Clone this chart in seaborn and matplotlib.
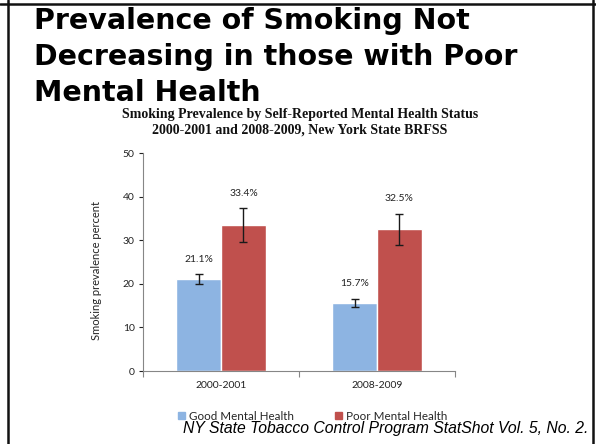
import numpy as np
import pandas as pd
import matplotlib
matplotlib.use("Agg")
import matplotlib.pyplot as plt
import seaborn as sns
from matplotlib.patches import Rectangle

# ========== Data ==========
periods = ["2000-2001", "2008-2009"]
groups = ["Good Mental Health", "Poor Mental Health"]
good_vals = [21.1, 15.7]
poor_vals = [33.4, 32.5]
good_err_low = [19.9, 14.6]
good_err_high = [22.2, 16.6]
poor_err_low = [29.5, 28.9]
poor_err_high = [37.4, 36.1]
colors = ["#8DB4E2", "#C0504D"]

df = pd.DataFrame({
    "period": periods * 2,
    "group": [groups[0]] * 2 + [groups[1]] * 2,
    "value": good_vals + poor_vals,
})

sns.set_style("white")
plt.rcParams["font.family"] = ["Lato", "DejaVu Sans"]

fig = plt.figure(figsize=(5.96, 4.44), dpi=100)
ax = fig.add_axes([143 / 596, 1 - 371 / 444, 312 / 596, 218 / 444])

sns.barplot(data=df, x="period", y="value", hue="group", order=periods,
            hue_order=groups, palette=colors, width=0.575, saturation=1,
            errorbar=None, legend=False, ax=ax)

# error bars + value labels
lows = [good_err_low, poor_err_low]
highs = [good_err_high, poor_err_high]
vals = [good_vals, poor_vals]
bar_conts = list(ax.containers)
for k, cont in enumerate(bar_conts):
    for i, p in enumerate(cont.patches):
        xc = p.get_x() + p.get_width() / 2
        v = vals[k][i]
        ax.errorbar(xc, v, yerr=[[v - lows[k][i]], [highs[k][i] - v]],
                    fmt="none", ecolor="#1a1a1a", elinewidth=1.0,
                    capsize=3, capthick=1.0)
        ax.text(xc, highs[k][i] + 3.4, f"{v:.1f}%", ha="center", va="center",
                fontsize=7.5, color="#222222")

ax.set_ylim(0, 50)
ax.set_xlim(-0.5, 1.5)
ax.set_yticks(range(0, 51, 10))
ax.set_xlabel("")
ax.set_ylabel("Smoking prevalence percent", fontsize=8, color="#222222")
ax.yaxis.set_label_coords(-0.13, 0.46)
ax.tick_params(axis="y", labelsize=7.5, colors="#222222", length=3, width=0.8,
               left=True, direction="out", pad=3)
ax.tick_params(axis="x", labelsize=7.5, colors="#222222", length=0, pad=7)
for t in ax.get_yticklines():
    t.set_color("#868686")
# category boundary ticks on the x axis (Excel style)
ax.set_xticks([-0.5, 0.5, 1.5], minor=True)
ax.tick_params(axis="x", which="minor", length=4, width=0.8, color="#868686",
               direction="out", bottom=True)
sns.despine(ax=ax)
for s in ["left", "bottom"]:
    ax.spines[s].set_color("#868686")
    ax.spines[s].set_linewidth(0.8)

# legend
handles = [Rectangle((0, 0), 1, 1, color=c) for c in colors]
fig.legend(handles, groups, loc="center left", bbox_to_anchor=(172 / 596, 1 - 416 / 444),
           ncol=2, frameon=False, fontsize=8.4, handlelength=0.65, handleheight=0.65,
           handletextpad=0.3, columnspacing=3.5, borderpad=0)

# slide title
fig.text(34 / 596, 1 - 101 / 444, "Prevalence of Smoking Not\nDecreasing in those with Poor\nMental Health",
         family=["DejaVu Sans"], fontweight="bold", fontsize=20.5,
         va="baseline", ha="left", linespacing=1.37, color="black")

# chart subtitle
fig.text(300 / 596, 1 - 134 / 444,
         "Smoking Prevalence by Self-Reported Mental Health Status\n2000-2001 and 2008-2009, New York State BRFSS",
         family=["Liberation Serif", "DejaVu Serif"], fontweight="bold", fontsize=10,
         ha="center", va="baseline", linespacing=1.3, color="#111111")

# source note
fig.text(588 / 596, 1 - 433 / 444, "NY State Tobacco Control Program StatShot Vol. 5, No. 2.",
         family=["Liberation Sans", "DejaVu Sans"], style="italic", fontsize=11.3,
         ha="right", va="baseline", color="black")

# slide frame
for (x0, y0, x1, y1) in [(8, 0, 8, 444), (0, 4, 596, 4), (593, 0, 593, 444)]:
    fig.add_artist(plt.Line2D([x0 / 596, x1 / 596], [1 - y0 / 444, 1 - y1 / 444],
                              color="#111111", linewidth=1.8, transform=fig.transFigure))

fig.savefig("out.png", dpi=100)
